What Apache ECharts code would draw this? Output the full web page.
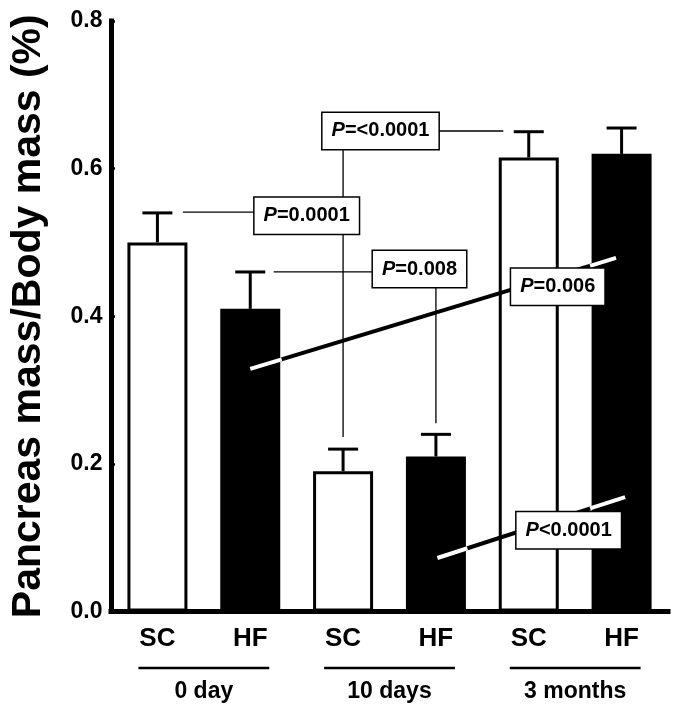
<!DOCTYPE html>
<html>
<head>
<meta charset="utf-8">
<script src="https://cdn.jsdelivr.net/npm/echarts@6/dist/echarts.min.js"></script>
<style>html,body{margin:0;padding:0;background:#fff}#c{width:677px;height:713px}</style>
</head>
<body>
<div id="c"></div>
<script>
// ---- data ----
const categories = ['SC', 'HF', 'SC', 'HF', 'SC', 'HF'];
const groups = ['0 day', '10 days', '3 months'];
const means = [0.50, 0.41, 0.19, 0.21, 0.615, 0.62];
const sem = [0.04, 0.05, 0.03, 0.03, 0.035, 0.035];
const yTicks = ['0.0', '0.2', '0.4', '0.6', '0.8'];
const pTexts = ['=0.0001', '=<0.0001', '=0.008', '=0.006', '<0.0001'];

// ---- annotation geometry in data space: [category index (fractional), value] ----
const thinPaths = [
  [[0.274, 0.541], [2.0, 0.541]],
  [[2.0, 0.2365], [2.0, 0.651], [3.726, 0.651]],
  [[1.253, 0.460], [3.0, 0.460], [3.0, 0.255]]
];
const thickPaths = [
  [[1.0, 0.3286], [4.94, 0.479]],
  [[3.016, 0.0725], [5.038, 0.155]]
];
const boxAnchors = [
  [1.608, 0.536],
  [2.403, 0.651],
  [2.823, 0.464],
  [4.312, 0.440],
  [4.430, 0.110]
];

const FF = "'Liberation Sans', Arial, sans-serif";
const BAR_W = 60, BAR_BORDER = 3;
const chart = echarts.init(document.getElementById('c'), null, {renderer: 'canvas'});

function pt(api, p) {
  const a = api.coord([0, p[1]]);
  const b = api.coord([1, p[1]]);
  return [a[0] + (b[0] - a[0]) * p[0], a[1]];
}

const option = {
  backgroundColor: '#fff',
  animation: false,
  grid: {left: 110.5, right: 9, top: 21, bottom: 101.5, containLabel: false},
  xAxis: [{
    type: 'category',
    data: categories,
    axisLine: {lineStyle: {color: '#000', width: 5, cap: 'square'}},
    axisTick: {show: false},
    axisLabel: {color: '#000', fontSize: 26, fontWeight: 'bold', fontFamily: FF, margin: 14}
  }, {
    type: 'category',
    data: groups,
    position: 'bottom',
    axisLine: {show: false},
    axisTick: {show: false},
    axisLabel: {color: '#000', fontSize: 23, fontWeight: 'bold', fontFamily: FF, margin: 69}
  }],
  yAxis: {
    type: 'value', min: 0, max: 0.8, interval: 0.2,
    axisLine: {show: true, lineStyle: {color: '#000', width: 5, cap: 'square'}},
    axisTick: {show: true, inside: true, length: 4, lineStyle: {color: '#000', width: 2.5}},
    splitLine: {show: false},
    axisLabel: {
      formatter: function (v, i) { return yTicks[i]; },
      color: '#000', fontSize: 23, fontWeight: 'bold', fontFamily: FF, margin: 8.5
    },
    name: 'Pancreas mass/Body mass (%)',
    nameLocation: 'middle',
    nameGap: 62,
    nameTextStyle: {color: '#000', fontSize: 41, fontWeight: 'bold', fontFamily: FF}
  },
  series: [{
    type: 'bar',
    barWidth: BAR_W,
    data: means.map(function (m, i) {
      const isSC = categories[i] === 'SC';
      return {value: m, itemStyle: {color: isSC ? '#fff' : '#000', borderColor: '#000', borderWidth: BAR_BORDER}};
    }),
    z: 2
  }, {
    type: 'custom',
    z: 5,
    data: means.map(function (m, i) { return [i, m, m + sem[i]]; }),
    renderItem: function (params, api) {
      const i = api.value(0);
      const t = api.coord([i, api.value(1)]);
      const u = api.coord([i, api.value(2)]);
      return {type: 'group', children: [
        {type: 'line', shape: {x1: t[0], y1: t[1], x2: u[0], y2: u[1]}, style: {stroke: '#000', lineWidth: 3}},
        {type: 'line', shape: {x1: u[0] - 15, y1: u[1], x2: u[0] + 15, y2: u[1]}, style: {stroke: '#000', lineWidth: 3}}
      ]};
    }
  }, {
    type: 'custom',
    z: 5,
    data: groups.map(function (g, i) { return [i]; }),
    renderItem: function (params, api) {
      const g = api.value(0);
      const a = api.coord([2 * g, 0]);
      const b = api.coord([2 * g + 1, 0]);
      const y = a[1] + 56.5;
      return {type: 'line', shape: {x1: a[0] - 19, y1: y, x2: b[0] + 19, y2: y}, style: {stroke: '#000', lineWidth: 2.5}};
    }
  }, {
    type: 'custom',
    z: 8,
    data: [[0, 0]],
    renderItem: function (params, api) {
      const children = [];
      const half = (BAR_W + BAR_BORDER) / 2;
      thickPaths.forEach(function (path) {
        const p0 = pt(api, path[0]);
        const p1 = pt(api, path[1]);
        const slope = (p1[1] - p0[1]) / (p1[0] - p0[0]);
        const f = function (x) { return p0[1] + slope * (x - p0[0]); };
        children.push({type: 'line', shape: {x1: p0[0], y1: p0[1], x2: p1[0], y2: p1[1]},
          style: {stroke: '#000', lineWidth: 4}});
        // white where the line runs over the black (HF) bars
        categories.forEach(function (c, i) {
          if (c !== 'HF') return;
          const cx = api.coord([i, 0])[0];
          const topY = api.coord([i, means[i]])[1];
          let xa = Math.max(p0[0], cx - half);
          let xb = Math.min(p1[0], cx + half);
          if (xb <= xa) return;
          // keep only the part below the bar top (y >= topY)
          const xCross = p0[0] + (topY - p0[1]) / slope;
          if (slope < 0) { xb = Math.min(xb, xCross); } else if (slope > 0) { xa = Math.max(xa, xCross); }
          if (xb <= xa) return;
          children.push({type: 'line', shape: {x1: xa, y1: f(xa), x2: xb, y2: f(xb)},
            style: {stroke: '#fff', lineWidth: 4}});
        });
      });
      thinPaths.forEach(function (path) {
        children.push({type: 'polyline', shape: {points: path.map(function (p) { return pt(api, p); })},
          style: {stroke: '#000', lineWidth: 1.3, fill: null}});
      });
      boxAnchors.forEach(function (p, k) {
        const c = pt(api, p);
        children.push({type: 'text', x: c[0], y: c[1], style: {
          text: '{i|P}{n|' + pTexts[k] + '}',
          rich: {
            i: {fontStyle: 'italic', fontWeight: 'bold', fontSize: 20, fontFamily: FF, fill: '#000', lineHeight: 22},
            n: {fontWeight: 'bold', fontSize: 20, fontFamily: FF, fill: '#000', lineHeight: 22}
          },
          align: 'center', verticalAlign: 'middle',
          backgroundColor: '#fff', borderColor: '#000', borderWidth: 1.5, padding: [7, 9]
        }});
      });
      return {type: 'group', children: children};
    }
  }]
};
chart.setOption(option);
</script>
</body>
</html>
